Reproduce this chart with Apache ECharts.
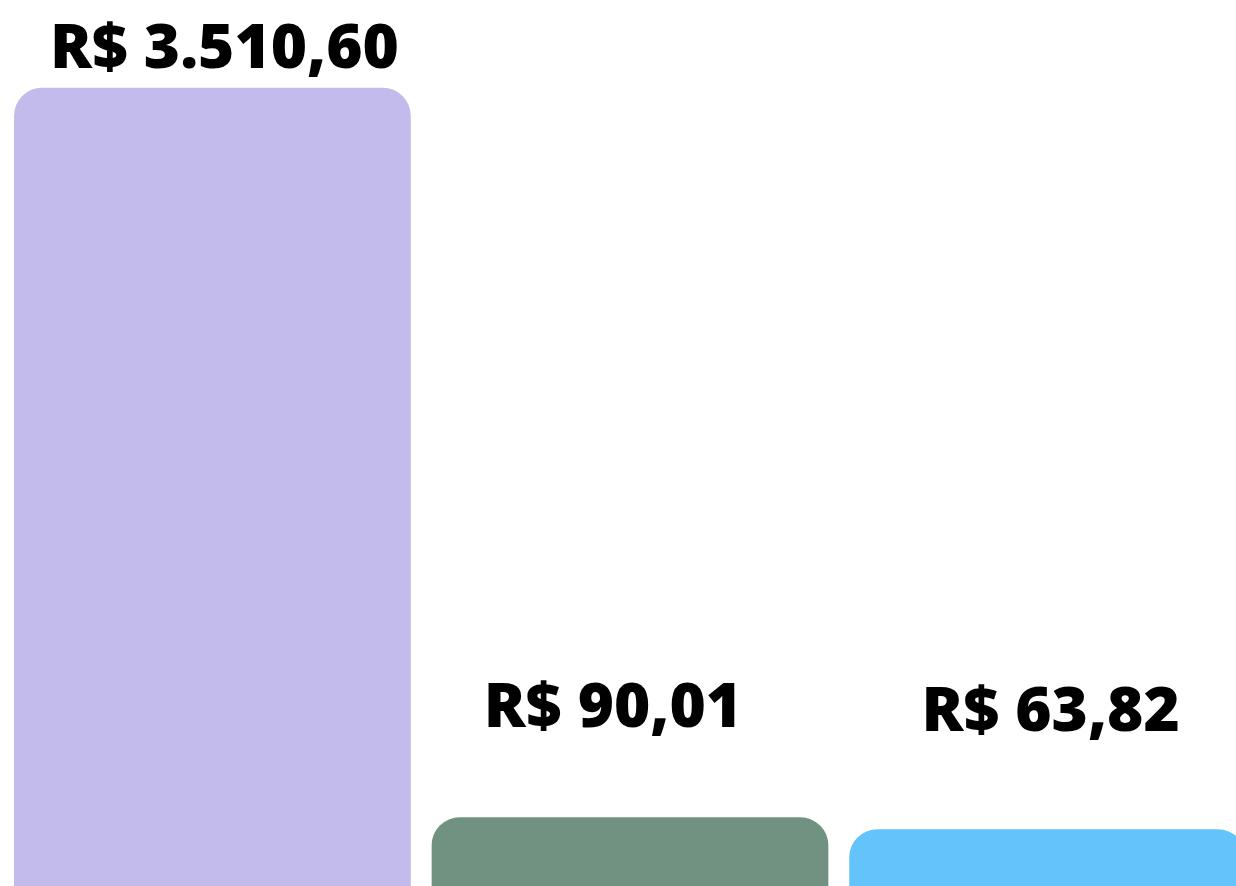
<!DOCTYPE html>
<html>
<head>
<meta charset="utf-8">
<script src="https://cdn.jsdelivr.net/npm/echarts@6/dist/echarts.min.js"></script>
<style>
html,body{margin:0;padding:0;background:#fff;}
#chart{width:1236px;height:886px;}
</style>
</head>
<body>
<div id="chart"></div>
<script>
// Data
const categories = ['A', 'B', 'C'];
const values = [3510.60, 90.01, 63.82];

function formatBRL(v) {
  const parts = v.toFixed(2).split('.');
  const intPart = parts[0].replace(/\B(?=(\d{3})+(?!\d))/g, '.');
  return 'R$ ' + intPart + ',' + parts[1];
}

const chart = echarts.init(document.getElementById('chart'), null, {renderer: 'canvas'});

// per-bar label placement (the reference labels are not evenly spaced)
const labelPlacement = [
  {distance: 6, offset: [12, 0]},
  {distance: 77, offset: [-17, 0]},
  {distance: 85, offset: [3, 0]}
];

const option = {
  backgroundColor: '#ffffff',
  animation: false,
  color: ['#c3bbeb', '#719281', '#63c3fa'],
  grid: {left: 212.4, top: 0, width: 835.2, bottom: 0, containLabel: false},
  xAxis: {
    type: 'category',
    data: categories,
    boundaryGap: false,
    show: false
  },
  yAxis: {
    type: 'value',
    show: false,
    min: -60,
    max: 3702,
    startValue: -60,
    splitLine: {show: false},
    breaks: [{start: 200, end: 2028.4, gap: 0}],
    breakArea: {show: false, itemStyle: {opacity: 0}}
  },
  series: [{
    type: 'bar',
    colorBy: 'data',
    barWidth: 396.7,
    clip: false,
    itemStyle: {borderRadius: [28, 28, 0, 0]},
    label: {
      show: true,
      position: 'top',
      color: '#000',
      fontFamily: 'Open Sans',
      fontWeight: 800,
      fontSize: 62,
      lineHeight: 62,
      formatter: p => formatBRL(p.value)
    },
    data: values.map((v, i) => ({
      value: v,
      label: labelPlacement[i]
    }))
  }]
};
chart.setOption(option);
</script>
</body>
</html>
